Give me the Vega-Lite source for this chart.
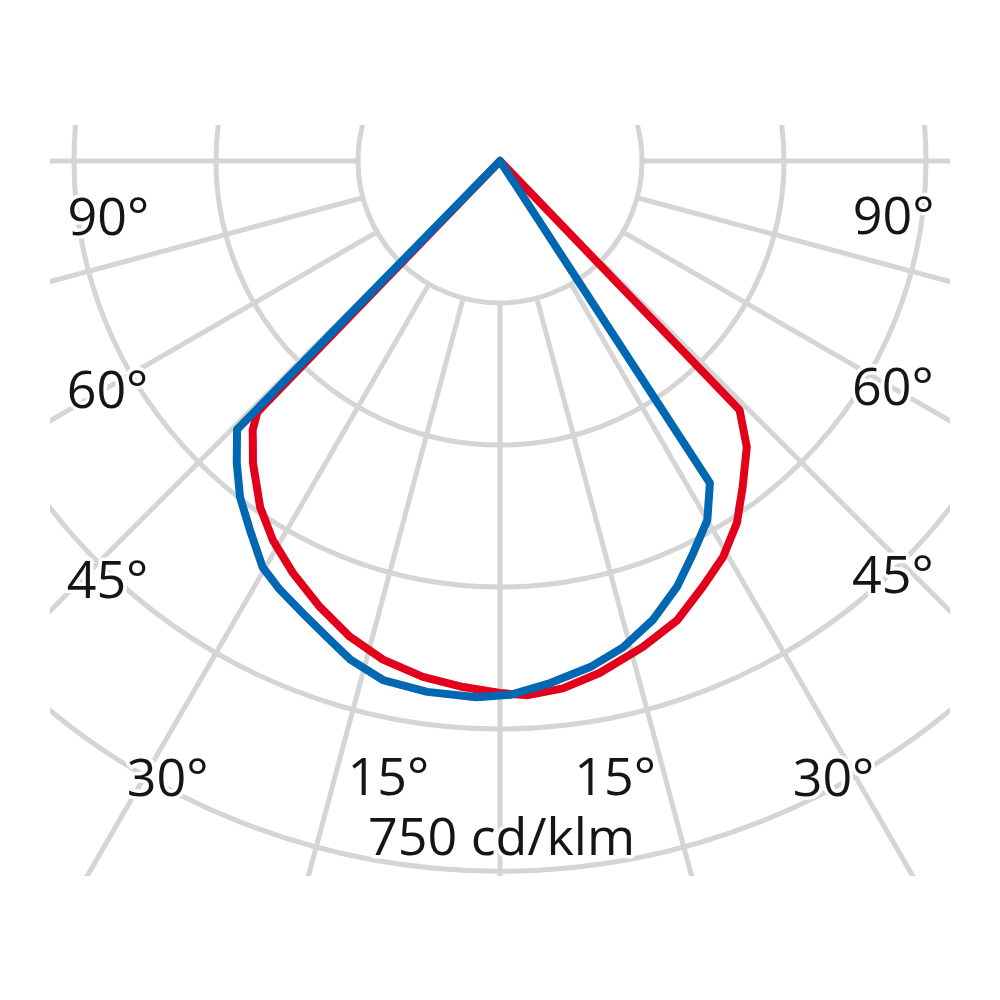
{
  "$schema": "https://vega.github.io/schema/vega-lite/v6.json",
  "width": 900,
  "height": 751,
  "autosize": "none",
  "padding": {"left": 50, "top": 125, "right": 50, "bottom": 124},
  "background": "white",
  "config": {"view": {"stroke": null}},
  "datasets": {
    "rings": [{"r": 150}, {"r": 300}, {"r": 450}, {"r": 600}, {"r": 750}],
    "radials": [{"a": -90}, {"a": -75}, {"a": -60}, {"a": -45}, {"a": -30}, {"a": -15}, {"a": 0}, {"a": 15}, {"a": 30}, {"a": 45}, {"a": 60}, {"a": 75}, {"a": 90}],
    "curves": [
      {"series": "red", "i": 0, "a": -90, "v": 0},
      {"series": "red", "i": 1, "a": -44.0, "v": 369},
      {"series": "red", "i": 2, "a": -42.6, "v": 386},
      {"series": "red", "i": 3, "a": -41.5, "v": 394},
      {"series": "red", "i": 4, "a": -39.3, "v": 412},
      {"series": "red", "i": 5, "a": -34.7, "v": 445},
      {"series": "red", "i": 6, "a": -30.9, "v": 467},
      {"series": "red", "i": 7, "a": -26.7, "v": 487},
      {"series": "red", "i": 8, "a": -22.0, "v": 508},
      {"series": "red", "i": 9, "a": -17.5, "v": 527},
      {"series": "red", "i": 10, "a": -13.2, "v": 541},
      {"series": "red", "i": 11, "a": -8.5, "v": 551},
      {"series": "red", "i": 12, "a": -4.0, "v": 557},
      {"series": "red", "i": 13, "a": 0, "v": 562},
      {"series": "red", "i": 14, "a": 3.0, "v": 565},
      {"series": "red", "i": 15, "a": 6.8, "v": 561},
      {"series": "red", "i": 16, "a": 11.0, "v": 551},
      {"series": "red", "i": 17, "a": 16.4, "v": 535},
      {"series": "red", "i": 18, "a": 21.1, "v": 520},
      {"series": "red", "i": 19, "a": 25.5, "v": 498},
      {"series": "red", "i": 20, "a": 29.4, "v": 480},
      {"series": "red", "i": 21, "a": 33.2, "v": 457},
      {"series": "red", "i": 22, "a": 36.7, "v": 429},
      {"series": "red", "i": 23, "a": 40.8, "v": 399},
      {"series": "red", "i": 24, "a": 43.9, "v": 365},
      {"series": "red", "i": 25, "a": 90, "v": 0},
      {"series": "blue", "i": 0, "a": -90, "v": 0},
      {"series": "blue", "i": 1, "a": -44.4, "v": 397},
      {"series": "blue", "i": 2, "a": -41.1, "v": 423},
      {"series": "blue", "i": 3, "a": -37.7, "v": 449},
      {"series": "blue", "i": 4, "a": -34.1, "v": 471},
      {"series": "blue", "i": 5, "a": -30.3, "v": 497},
      {"series": "blue", "i": 6, "a": -27.2, "v": 509},
      {"series": "blue", "i": 7, "a": -23.6, "v": 521},
      {"series": "blue", "i": 8, "a": -20.0, "v": 535},
      {"series": "blue", "i": 9, "a": -16.7, "v": 550},
      {"series": "blue", "i": 10, "a": -12.7, "v": 562},
      {"series": "blue", "i": 11, "a": -7.8, "v": 566},
      {"series": "blue", "i": 12, "a": -2.5, "v": 567},
      {"series": "blue", "i": 13, "a": 1.1, "v": 564},
      {"series": "blue", "i": 14, "a": 5.5, "v": 554},
      {"series": "blue", "i": 15, "a": 10.1, "v": 543},
      {"series": "blue", "i": 16, "a": 14.2, "v": 530},
      {"series": "blue", "i": 17, "a": 18.4, "v": 511},
      {"series": "blue", "i": 18, "a": 22.6, "v": 487},
      {"series": "blue", "i": 19, "a": 26.2, "v": 462},
      {"series": "blue", "i": 20, "a": 30.0, "v": 438},
      {"series": "blue", "i": 21, "a": 33.1, "v": 406},
      {"series": "blue", "i": 22, "a": 90, "v": 0}
    ],
    "labels": [
      {"label": "90°", "lx": -413.6, "ly": -78.2},
      {"label": "90°", "lx": 415.7, "ly": -77.1},
      {"label": "60°", "lx": -414.6, "ly": -260.9},
      {"label": "60°", "lx": 415.1, "ly": -257.7},
      {"label": "45°", "lx": -414.6, "ly": -461.6},
      {"label": "45°", "lx": 415.1, "ly": -456.3},
      {"label": "30°", "lx": -351.2, "ly": -670.8},
      {"label": "30°", "lx": 352.3, "ly": -670.8},
      {"label": "15°", "lx": -117.8, "ly": -669.7},
      {"label": "15°", "lx": 121.5, "ly": -669.7},
      {"label": "750 cd/klm", "lx": 1.6, "ly": -733.1}
    ]
  },
  "layer": [
    {
      "data": {"name": "rings"},
      "mark": {"type": "point", "shape": "circle", "filled": false, "stroke": "#d5d5d5", "color": "#d5d5d5", "strokeWidth": 5, "opacity": 1, "clip": true},
      "encoding": {
        "x": {"datum": 0, "type": "quantitative", "scale": {"domain": [-475.35, 475.35], "nice": false, "zero": false}, "axis": null},
        "y": {"datum": 0, "type": "quantitative", "scale": {"domain": [-755.27, 38.03], "nice": false, "zero": false}, "axis": null},
        "size": {"field": "r", "type": "quantitative", "scale": {"type": "pow", "exponent": 2, "domain": [0, 750], "range": [0, 2016400]}, "legend": null}
      }
    },
    {
      "data": {"name": "radials"},
      "transform": [
        {"calculate": "150*sin(datum.a*PI/180)", "as": "x1"},
        {"calculate": "-150*cos(datum.a*PI/180)", "as": "y1"},
        {"calculate": "1000*sin(datum.a*PI/180)", "as": "x2"},
        {"calculate": "-1000*cos(datum.a*PI/180)", "as": "y2"}
      ],
      "mark": {"type": "rule", "stroke": "#d5d5d5", "strokeWidth": 5, "clip": true},
      "encoding": {
        "x": {"field": "x1", "type": "quantitative", "scale": {"domain": [-475.35, 475.35], "nice": false, "zero": false}, "axis": null},
        "y": {"field": "y1", "type": "quantitative", "scale": {"domain": [-755.27, 38.03], "nice": false, "zero": false}, "axis": null},
        "x2": {"field": "x2"},
        "y2": {"field": "y2"}
      }
    },
    {
      "data": {"name": "curves"},
      "transform": [
        {"filter": "datum.series === 'red'"},
        {"calculate": "datum.v*sin(datum.a*PI/180)", "as": "x"},
        {"calculate": "-datum.v*cos(datum.a*PI/180)", "as": "y"}
      ],
      "mark": {"type": "line", "stroke": "#e2001a", "strokeWidth": 8, "strokeJoin": "round", "strokeCap": "round", "clip": true},
      "encoding": {
        "x": {"field": "x", "type": "quantitative", "scale": {"domain": [-475.35, 475.35], "nice": false, "zero": false}, "axis": null},
        "y": {"field": "y", "type": "quantitative", "scale": {"domain": [-755.27, 38.03], "nice": false, "zero": false}, "axis": null},
        "order": {"field": "i", "type": "quantitative"}
      }
    },
    {
      "data": {"name": "curves"},
      "transform": [
        {"filter": "datum.series === 'blue'"},
        {"calculate": "datum.v*sin(datum.a*PI/180)", "as": "x"},
        {"calculate": "-datum.v*cos(datum.a*PI/180)", "as": "y"}
      ],
      "mark": {"type": "line", "stroke": "#0067b3", "strokeWidth": 8, "strokeJoin": "round", "strokeCap": "round", "clip": true},
      "encoding": {
        "x": {"field": "x", "type": "quantitative", "scale": {"domain": [-475.35, 475.35], "nice": false, "zero": false}, "axis": null},
        "y": {"field": "y", "type": "quantitative", "scale": {"domain": [-755.27, 38.03], "nice": false, "zero": false}, "axis": null},
        "order": {"field": "i", "type": "quantitative"}
      }
    },
    {
      "data": {"name": "labels"},
      "mark": {"type": "text", "font": "Open Sans", "fontSize": 52, "align": "center", "baseline": "alphabetic", "fill": "white", "stroke": "white", "strokeWidth": 7, "strokeJoin": "round"},
      "encoding": {
        "x": {"field": "lx", "type": "quantitative", "scale": {"domain": [-475.35, 475.35], "nice": false, "zero": false}, "axis": null},
        "y": {"field": "ly", "type": "quantitative", "scale": {"domain": [-755.27, 38.03], "nice": false, "zero": false}, "axis": null},
        "text": {"field": "label"}
      }
    },
    {
      "data": {"name": "labels"},
      "mark": {"type": "text", "font": "Open Sans", "fontSize": 52, "align": "center", "baseline": "alphabetic", "fill": "#151515"},
      "encoding": {
        "x": {"field": "lx", "type": "quantitative", "scale": {"domain": [-475.35, 475.35], "nice": false, "zero": false}, "axis": null},
        "y": {"field": "ly", "type": "quantitative", "scale": {"domain": [-755.27, 38.03], "nice": false, "zero": false}, "axis": null},
        "text": {"field": "label"}
      }
    }
  ]
}
